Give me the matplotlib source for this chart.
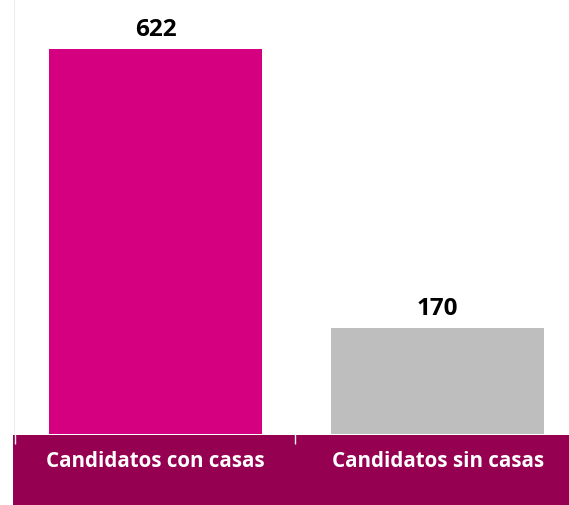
import matplotlib.pyplot as plt
from matplotlib.patches import Rectangle

categories = ["Candidatos con casas", "Candidatos sin casas"]
values = [622, 170]
bar_colors = ["#D5007F", "#BEBEBE"]

W, H = 569, 506
plt.rcParams['font.family'] = ['Open Sans', 'DejaVu Sans']
fig = plt.figure(figsize=(W / 100, H / 100), dpi=100)

# axes spans from the faint left line to the right edge, bottom at the bar baseline
ax = fig.add_axes([14 / W, (H - 434.5) / H, (W - 14) / W, 434.5 / H])

# maroon band under the plot holding the category labels
band = Rectangle((13 / W, 0), 1 - 13 / W, (H - 436) / H, transform=fig.transFigure,
                 facecolor="#950050", edgecolor="none", zorder=-1)
fig.add_artist(band)

x = range(len(categories))
bars = ax.bar(x, values, width=0.755, color=bar_colors)
for b, v in zip(bars, values):
    ax.annotate(str(v), (b.get_x() + b.get_width() / 2, v), xytext=(0, 6),
                textcoords="offset points", ha="center", va="bottom",
                fontsize=17.5, fontweight="bold", color="black")

ax.set_xlim(-0.502, 1.466)
ax.set_ylim(0, 703)

ax.set_xticks(list(x))
ax.set_xticklabels(categories, fontsize=14.8, fontweight="bold", color="white")
ax.tick_params(axis="x", which="major", length=0, pad=12)
ax.set_xticks([-0.5, 0.495], minor=True)
ax.tick_params(axis="x", which="minor", length=7, width=1, color="#f2f2f2")
ax.set_yticks([])

for s in ["top", "right", "bottom"]:
    ax.spines[s].set_visible(False)
ax.spines["left"].set_color("#eeeeee")

fig.savefig("out.png", dpi=100)
